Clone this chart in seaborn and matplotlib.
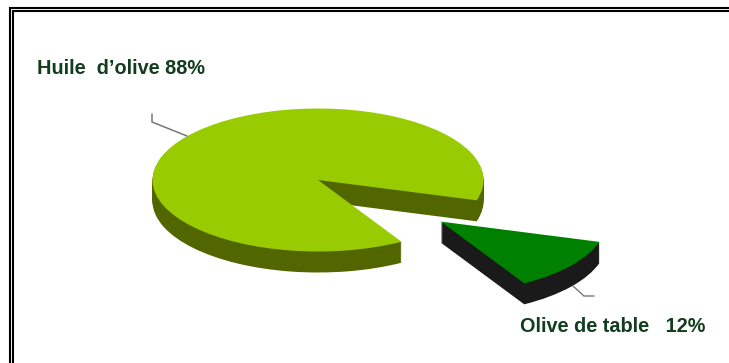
import matplotlib
matplotlib.use("Agg")
import matplotlib.pyplot as plt
import seaborn as sns

# Share of olive production by use
categories = ["Olive de table", "Huile d'olive"]
shares = [12, 88]
labels = ["Olive de table   12%", "Huile  d\u2019olive 88%"]

sns.set_theme(style="white")
plt.rcParams["font.family"] = ["Liberation Sans", "DejaVu Sans"]

top_colors = sns.color_palette(["#008000", "#99CC00"])
side_colors = sns.color_palette(["#1A1A1A", "#526600"])
text_color = "#123D1E"
leader_color = "#77777C"

W, H = 729, 363
RX, RY = 165.5, 71.5
SQUASH = RY / RX           # vertical foreshortening of the disc
CX, CY = 318, 180          # disc centre, in pixels
DEPTH = 21                 # height of the extruded rim, in pixels
EXPLODE = 156              # how far the small slice is pulled out


def py(y):
    """Pixel row (from the top) to the stretched y axis."""
    return (H - y) / SQUASH


fig = plt.figure(figsize=(W / 100, H / 100), dpi=100, facecolor="white")
ax = fig.add_axes([0, 0, 1, 1])


def draw_layer(offset, colors):
    ax.pie(
        shares,
        colors=colors,
        explode=[EXPLODE, 0],
        radius=RX,
        center=(CX, py(CY + offset)),
        startangle=-16.5,
        counterclock=False,
        frame=True,
        wedgeprops={"linewidth": 0},
    )


# Rim first, built from stacked copies of the slices, then the top face
for offset in range(DEPTH, 0, -1):
    draw_layer(offset, side_colors)
draw_layer(0, top_colors)

ax.set_aspect("auto")
ax.set_xlim(0, W)
ax.set_ylim(0, H / SQUASH)
ax.set_axis_off()

# Leader lines
ax.plot([152, 152, 187], [py(114), py(122), py(136)], color=leader_color, lw=1.1, solid_joinstyle="miter")
ax.plot([573, 584, 594], [py(286), py(296), py(296)], color=leader_color, lw=1.0, solid_joinstyle="miter")

# Slice labels
ax.text(37, py(69), labels[1], fontsize=14.3, fontweight="bold", color=text_color, ha="left", va="center")
ax.text(520, py(327), labels[0], fontsize=14.3, fontweight="bold", color=text_color, ha="left", va="center")

# Double rule along the top and left, running off the right and bottom edges
for x, y, lw in [(10, 8, 1.5), (13, 11, 1.5)]:
    ax.plot([x, x, W], [py(H), py(y), py(y)], color="black", lw=lw, solid_joinstyle="miter", solid_capstyle="butt")

fig.savefig("out.png", dpi=100, facecolor="white")
